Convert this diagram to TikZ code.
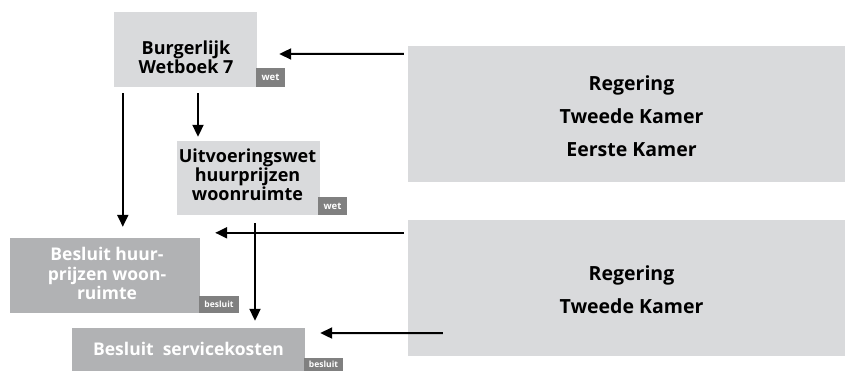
\documentclass[tikz,border=0pt]{standalone}
\usepackage{fontspec}
\setmainfont{Open Sans}
\usetikzlibrary{arrows.meta,calc}
\definecolor{boxlight}{HTML}{D9DADC}
\definecolor{boxdark}{HTML}{B1B2B4}
\definecolor{tagfill}{HTML}{808080}
\tikzset{
  lightbox/.style={fill=boxlight,draw=none,inner sep=0pt},
  darkbox/.style={fill=boxdark,draw=none,inner sep=0pt},
  tagbox/.style={fill=tagfill,draw=none,inner sep=0pt,text=white},
  wettag/.style={tagbox,font=\bfseries\fontsize{9.5}{10}\selectfont},
  besluittag/.style={tagbox,font=\bfseries\fontsize{8.5}{9}\selectfont},
  darktext/.style={align=center,font=\bfseries\fontsize{18}{19}\selectfont,text=black,inner sep=0pt},
  bodytext/.style={align=center,font=\bfseries\fontsize{19.5}{33}\selectfont,text=black,inner sep=0pt},
  whitetext/.style={align=center,font=\bfseries\fontsize{17.5}{19.5}\selectfont,text=white,inner sep=0pt},
  flow/.style={line width=2pt,-{Triangle[length=12pt,width=11pt]}},
}
\begin{document}
\begin{tikzpicture}[x=1pt,y=-1pt]
\useasboundingbox (0,0) rectangle (845,370);

% right-hand bodies
\node[lightbox,minimum width=437pt,minimum height=136pt] (R1) at (626.5,114) {};
\node[lightbox,minimum width=437pt,minimum height=136pt] (R2) at (626.5,288) {};
\node[bodytext] (R1t) at ($(R1.center)+(5,2)$) {Regering\\Tweede Kamer\\Eerste Kamer};
\node[bodytext] (R2t) at ($(R2.center)+(5,2)$) {Regering\\Tweede Kamer};

% laws
\node[lightbox,minimum width=143pt,minimum height=75pt] (B) at (185.5,49.5) {};
\node[wettag,minimum width=29pt,minimum height=19pt] (Btag) at (270.5,77.5) {wet};
\node[darktext] (Bt) at ($(B.center)+(0.5,8)$) {Burgerlijk\\Wetboek 7};

\node[lightbox,minimum width=143pt,minimum height=74pt] (U) at (248.5,178) {};
\node[wettag,minimum width=29pt,minimum height=18pt] (Utag) at (332.5,206) {wet};
\node[darktext] (Ut) at ($(U.center)+(-1,-3)$) {Uitvoeringswet\\huurprijzen\\woonruimte};

% decrees
\node[darkbox,minimum width=190pt,minimum height=75pt] (H) at (105,275.5) {};
\node[besluittag,minimum width=40pt,minimum height=17pt] (Htag) at (219,304.5) {besluit};
\node[whitetext] (Ht) at ($(H.center)+(2,-2)$) {Besluit huur-\\prijzen woon-\\ruimte};

\node[darkbox,minimum width=233pt,minimum height=44pt] (S) at (188.5,350) {};
\node[besluittag,minimum width=39pt,minimum height=17pt,text depth=5pt] (Stag) at (323.5,366.5) {besluit};
\node[whitetext] (St) at ($(S.center)+(0,-1)$) {Besluit\ \ servicekosten};

% connectors
\draw[flow] ($(R1.north west)+(-4,8)$) -- ($(B.east)+(22,4.5)$);
\draw[flow] ($(B.south)+(12.5,6)$) -- ($(U.north)+(-50.5,-4)$);
\draw[flow] ($(B.south west)+(9,6)$) -- ($(H.north west)+(113,-11)$);
\draw[flow] ($(R2.north west)+(-4,13)$) -- ($(H.north east)+(15,-5)$);
\draw[flow] ($(U.south)+(6.5,8)$) -- ($(S.north)+(66.5,-7)$);
\draw[flow] ($(R2.south west)+(35,-23)$) -- ($(S.east)+(15,-17)$);
\end{tikzpicture}
\end{document}
